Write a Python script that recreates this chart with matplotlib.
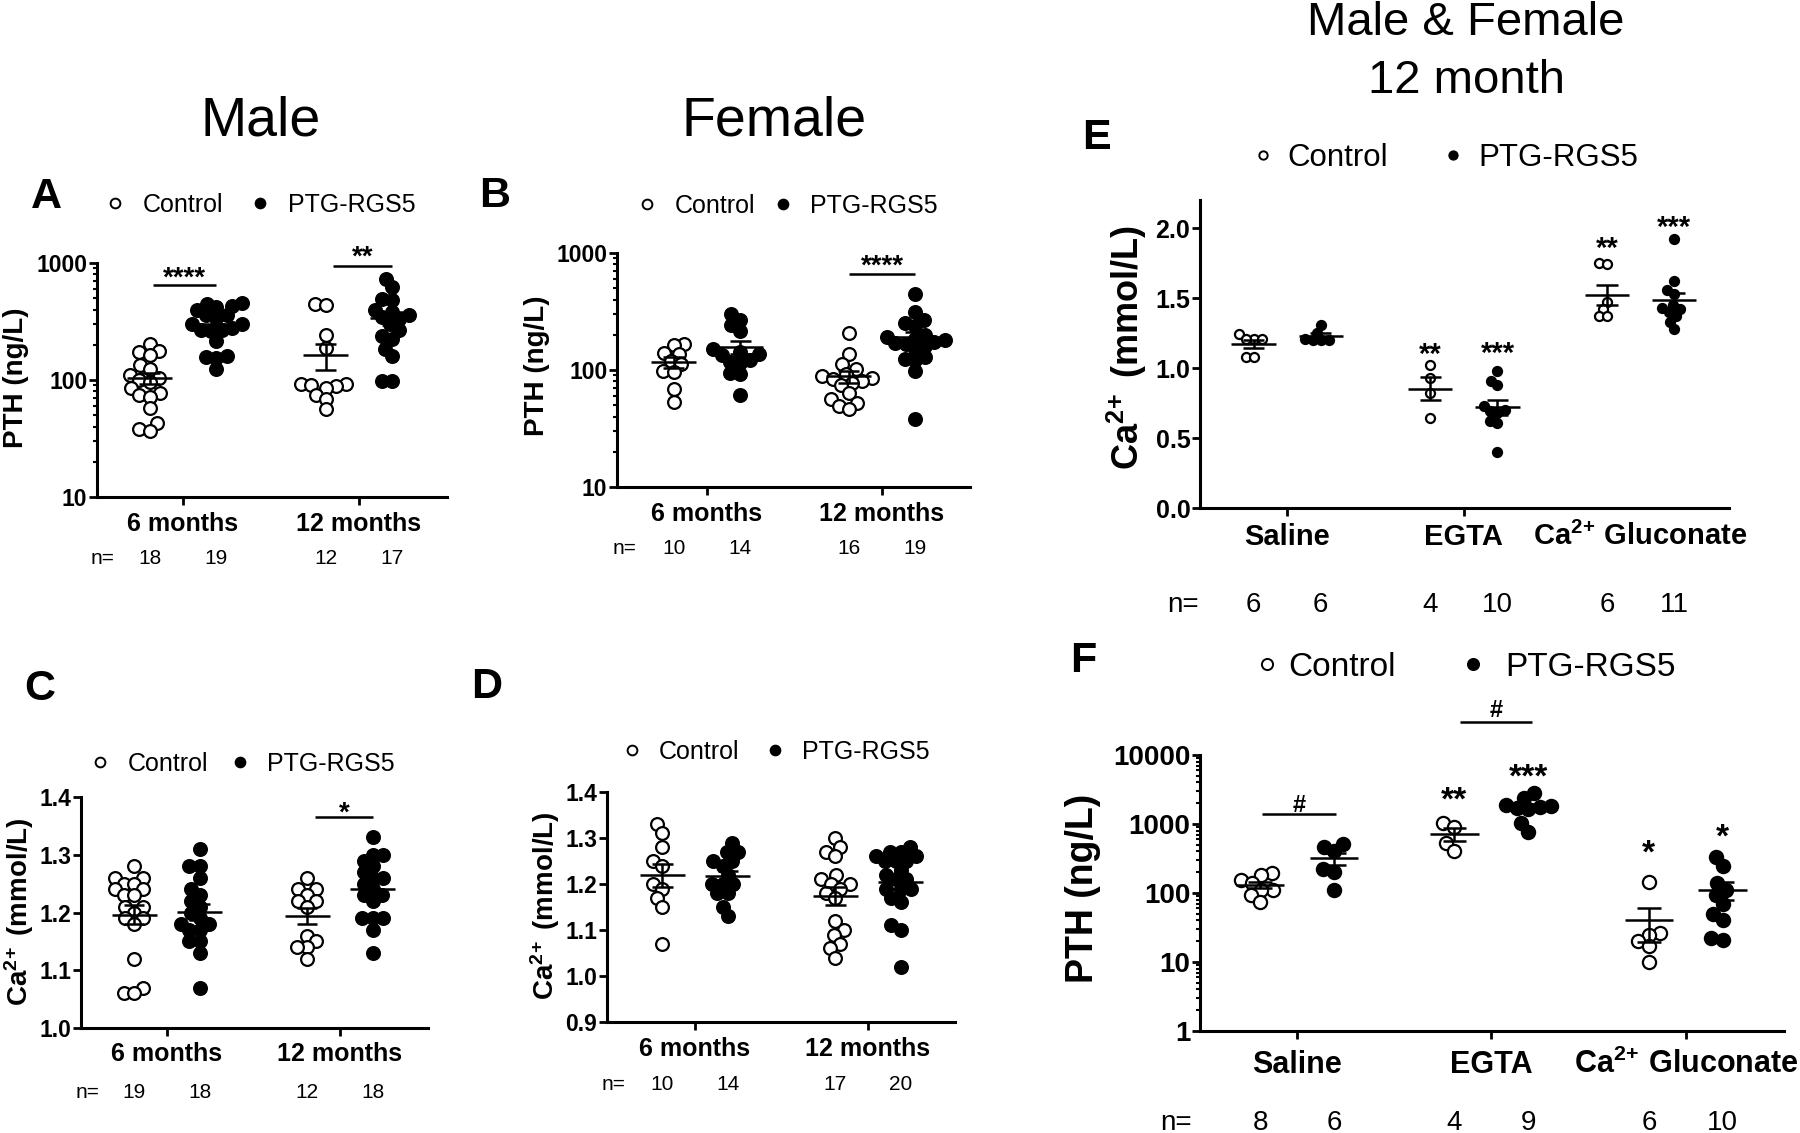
#=======================================================
#	PTH and ionised calcium in Control vs PTG-RGS5 mice
#	six panels (A-F), GraphPad style scatter with mean +/- SEM
#========================================================
import numpy as np
import matplotlib
matplotlib.use('Agg')
import matplotlib.pyplot as plt
from matplotlib.lines import Line2D
from matplotlib.ticker import LogLocator, NullFormatter

plt.rcParams['font.family'] = ['Liberation Sans', 'DejaVu Sans']
plt.rcParams['mathtext.default'] = 'regular'

CA = 'Ca$^{2\\!+}$'

#=====================
#===== Data
#=====================
ages = ['6 months', '12 months']
treatments = ['Saline', 'EGTA', 'Ca$^{2\\!+}\\,$Gluconate']

#--- A : male PTH (ng/L)
A_ctrl_6 = [203, 178, 172, 165, 135, 124, 110, 103, 100, 96, 85, 77, 74, 72, 58, 43, 38, 37]
A_rgs_6 = [455, 450, 430, 420, 400, 360, 360, 340, 300, 300, 280, 270, 265, 260, 217, 160, 158, 155, 125]
A_ctrl_12 = [450, 435, 241, 188, 93, 92, 90, 88, 85, 75, 69, 56]
A_rgs_12 = [730, 620, 495, 485, 400, 385, 360, 345, 330, 300, 266, 240, 225, 184, 159, 99, 98]

#--- B : female PTH (ng/L)
B_ctrl_6 = [168, 165, 140, 138, 120, 112, 98, 97, 69, 53]
B_rgs_6 = [299, 269, 241, 216, 150, 142, 138, 135, 122, 118, 115, 95, 92, 61]
B_ctrl_12 = [207, 138, 112, 102, 93, 88, 86, 83, 80, 78, 74, 64, 56, 52, 49, 46]
B_rgs_12 = [449, 313, 265, 250, 240, 200, 190, 185, 180, 175, 170, 166, 160, 150, 128, 125, 122, 98, 38]

#--- C : male Ca2+ (mmol/L)
C_ctrl_6 = [1.28, 1.26, 1.26, 1.25, 1.25, 1.24, 1.24, 1.23, 1.23, 1.21, 1.21, 1.20, 1.19, 1.19, 1.18, 1.12, 1.07, 1.06, 1.06]
C_rgs_6 = [1.31, 1.28, 1.28, 1.26, 1.24, 1.23, 1.22, 1.21, 1.20, 1.19, 1.18, 1.18, 1.17, 1.17, 1.15, 1.15, 1.13, 1.07]
C_ctrl_12 = [1.26, 1.24, 1.24, 1.23, 1.22, 1.22, 1.21, 1.16, 1.15, 1.14, 1.14, 1.12]
C_rgs_12 = [1.33, 1.30, 1.30, 1.29, 1.28, 1.27, 1.26, 1.26, 1.25, 1.24, 1.23, 1.23, 1.22, 1.19, 1.19, 1.19, 1.17, 1.13]

#--- D : female Ca2+ (mmol/L)
D_ctrl_6 = [1.33, 1.31, 1.28, 1.25, 1.24, 1.20, 1.19, 1.17, 1.15, 1.07]
D_rgs_6 = [1.29, 1.27, 1.27, 1.25, 1.25, 1.24, 1.22, 1.20, 1.20, 1.20, 1.18, 1.18, 1.15, 1.13]
D_ctrl_12 = [1.30, 1.28, 1.27, 1.26, 1.22, 1.21, 1.20, 1.20, 1.19, 1.18, 1.17, 1.12, 1.10, 1.09, 1.07, 1.06, 1.04]
D_rgs_12 = [1.28, 1.27, 1.27, 1.26, 1.26, 1.25, 1.25, 1.25, 1.23, 1.22, 1.21, 1.21, 1.19, 1.19, 1.19, 1.17, 1.16, 1.11, 1.10, 1.02]

#--- E : 12 month Ca2+ (mmol/L) after treatment
E_ctrl_saline = [1.24, 1.21, 1.21, 1.21, 1.08, 1.08]
E_rgs_saline = [1.31, 1.25, 1.21, 1.20, 1.20, 1.20]
E_ctrl_egta = [1.02, 0.93, 0.82, 0.64]
E_rgs_egta = [0.98, 0.91, 0.88, 0.73, 0.70, 0.69, 0.68, 0.62, 0.61, 0.40]
E_ctrl_gluc = [1.75, 1.74, 1.47, 1.42, 1.37, 1.37]
E_rgs_gluc = [1.92, 1.62, 1.56, 1.53, 1.45, 1.43, 1.42, 1.40, 1.37, 1.33, 1.28]

#--- F : 12 month PTH (ng/L) after treatment
F_ctrl_saline = [192, 180, 154, 140, 112, 110, 93, 74]
F_rgs_saline = [510, 470, 400, 220, 200, 112]
F_ctrl_egta = [1020, 915, 525, 406]
F_rgs_egta = [2800, 2355, 1900, 1800, 1750, 1700, 1650, 1020, 760]
F_ctrl_gluc = [145, 26, 25, 20, 17, 10]
F_rgs_gluc = [330, 245, 140, 110, 95, 70, 50, 40, 22, 21]

#======================
# 	Figure helpers
#======================
W = 1800
H = 1133
DPI = 100
OFF = 0.19  # half distance between control / RGS5 columns of one group

fig = plt.figure(figsize=(W / DPI, H / DPI), dpi=DPI)


def fx(x):
    return x / W


def fy(y):
    return 1 - y / H


def em(fs):
    return fs * DPI / 72.


def add_panel(x0, x1, ytop, ybot):
    return fig.add_axes([fx(x0), fy(ybot), (x1 - x0) / W, (ybot - ytop) / H])


def ftext(x, y, s, fs, ha='center', weight='normal'):
    # y = middle of the capitals (pixels from top)
    fig.text(fx(x), fy(y + 0.358 * em(fs)), s, fontsize=fs, ha=ha, va='baseline', fontweight=weight)


def atext(ax, x, y, s, fs, weight='normal'):
    # x in data units, y = middle of the capitals (pixels from top)
    bb = ax.get_position()
    ybot = (1 - bb.y0) * H
    hgt = bb.height * H
    yb = y + 0.358 * em(fs)
    ax.text(x, (ybot - yb) / hgt, s, transform=ax.get_xaxis_transform(), ha='center', va='baseline',
            fontsize=fs, fontweight=weight, clip_on=False)


def style(ax, xlim, ylim, yticks, ylabels, tfs, log=False):
    if log:
        ax.set_yscale('log')
        ax.yaxis.set_minor_locator(LogLocator(base=10, subs=np.arange(2, 10)))
        ax.yaxis.set_minor_formatter(NullFormatter())
    ax.set_xlim(*xlim)
    ax.set_ylim(*ylim)
    ax.set_yticks(yticks, ylabels, fontsize=tfs, fontweight='bold')
    ng = int(round(xlim[1]))
    ax.set_xticks(range(ng), [''] * ng)
    ax.spines[['top', 'right']].set_visible(False)
    ax.spines[['left', 'bottom']].set_linewidth(2.2)
    ax.tick_params(axis='both', which='major', length=6, width=2, pad=1, direction='out')
    ax.tick_params(axis='y', which='minor', length=3, width=1.5)
    ax.patch.set_alpha(0)


def swarm(ax, xc, vals, diam):
    # simple beeswarm : spread equal values sideways (pixels)
    pts = ax.transData.transform(np.column_stack([np.full(len(vals), xc), vals]))
    order = np.argsort(pts[:, 1])
    placed = []
    off = np.zeros(len(vals))
    for i in order:
        y = pts[i, 1]
        forb = []
        for (px, py) in placed:
            dy = abs(py - y)
            if dy < diam:
                dx = np.sqrt(diam ** 2 - dy ** 2)
                forb.append((px - dx, px + dx))
        cands = sorted([0.0] + [a for a, b in forb] + [b for a, b in forb], key=abs)
        for c in cands:
            if all(not (a + 1e-6 < c < b - 1e-6) for a, b in forb):
                break
        placed.append((c, y))
        off[i] = c
    back = ax.transData.inverted().transform(np.column_stack([pts[:, 0] + off, pts[:, 1]]))
    return back[:, 0]


def column(ax, xc, vals, filled, ms, diam, mw=0.26, cw=0.12, lw=1.8):
    vals = np.asarray(vals, float)
    xs = swarm(ax, xc, vals, diam)
    ax.plot(xs, vals, 'o', ms=ms, mfc='black' if filled else 'white', mec='black', mew=1.6,
            ls='none', zorder=3, clip_on=False)
    m = vals.mean()
    se = vals.std(ddof=1) / np.sqrt(len(vals))
    kw = dict(color='black', lw=lw, zorder=4, solid_capstyle='butt')
    ax.plot([xc - mw / 2, xc + mw / 2], [m, m], **kw)
    ax.plot([xc, xc], [m - se, m + se], **kw)
    ax.plot([xc - cw / 2, xc + cw / 2], [m + se, m + se], **kw)
    ax.plot([xc - cw / 2, xc + cw / 2], [m - se, m - se], **kw)


def mark(ax, x, y, s, fs, dy_px=0., cen=0.58):
    # glyph centre sits dy_px above the anchor point
    ax.annotate(s, xy=(x, y), xytext=(0, dy_px * 72. / DPI - cen * fs), textcoords='offset points',
                ha='center', va='baseline', fontsize=fs, fontweight='bold', annotation_clip=False)


def sigbar(ax, x0, x1, y, s, fs, dy_px, cen=0.58):
    ax.plot([x0, x1], [y, y], color='black', lw=1.8, clip_on=False, solid_capstyle='butt')
    mark(ax, (x0 + x1) / 2., y, s, fs, dy_px, cen)


def legend(y, xc, xt1, xd, xt2, fs, ms):
    fig.add_artist(Line2D([fx(xc)], [fy(y)], transform=fig.transFigure, marker='o', ms=ms,
                          mfc='white', mec='black', mew=1.4, ls='none'))
    fig.add_artist(Line2D([fx(xd)], [fy(y)], transform=fig.transFigure, marker='o', ms=ms,
                          mfc='black', mec='black', mew=1.4, ls='none'))
    ftext(xt1, y, 'Control', fs, ha='left')
    ftext(xt2, y, 'PTG-RGS5', fs, ha='left')


def ylab(x, y, s, fs):
    fig.text(fx(x), fy(y), s, rotation=90, ha='center', va='center', fontsize=fs, fontweight='bold')


def nrow(ax, y, xn, groups, fs):
    atext(ax, xn, y, 'n=', fs)
    for i, (c, r) in enumerate(groups):
        atext(ax, i - OFF, y, str(len(c)), fs)
        atext(ax, i + OFF, y, str(len(r)), fs)


#======================
# 	Titles
#======================
ftext(261, 116, 'Male', 40)
ftext(774, 116, 'Female', 40)
fig.text(fx(1466), fy(35), 'Male & Female', fontsize=34, ha='center', va='baseline')
fig.text(fx(1466), fy(93), '12 month', fontsize=34, ha='center', va='baseline')

for lett, x, yb in [('A', 31, 208), ('B', 479, 207), ('C', 24, 700), ('D', 471, 698),
                    ('E', 1082, 149), ('F', 1070, 672)]:
    fig.text(fx(x), fy(yb), lett, fontsize=31, fontweight='bold', ha='left', va='baseline')

pth_ticks = [10, 100, 1000]
pth_labels = ['10', '100', '1000']
MS = 9.2    # marker size (points) of the panels A-D and F
DIAM = 10.5  # packing distance (pixels) of the swarm

#----- A
axA = add_panel(97, 447, 263, 497)
style(axA, (-0.489, 1.5), (10, 1000), pth_ticks, pth_labels, 16.5, log=True)
grpA = [(A_ctrl_6, A_rgs_6), (A_ctrl_12, A_rgs_12)]
for i, (c, r) in enumerate(grpA):
    column(axA, i - OFF, c, False, MS, DIAM)
    column(axA, i + OFF, r, True, MS, DIAM)
sigbar(axA, -0.17, 0.19, 649, '****', 20, 15)
sigbar(axA, 0.85, 1.19, 936, '**', 20, 18)
for i, g in enumerate(ages):
    atext(axA, i, 522, g, 18, 'bold')
nrow(axA, 557, -0.46, grpA, 15)
legend(203, 115, 143, 260, 288, 18, 7)
ylab(16, 378, 'PTH (ng/L)', 20)

#----- B
axB = add_panel(617, 970, 253, 487)
style(axB, (-0.514, 1.503), (10, 1000), pth_ticks, pth_labels, 16.5, log=True)
grpB = [(B_ctrl_6, B_rgs_6), (B_ctrl_12, B_rgs_12)]
for i, (c, r) in enumerate(grpB):
    column(axB, i - OFF, c, False, MS, DIAM)
    column(axB, i + OFF, r, True, MS, DIAM)
sigbar(axB, 0.81, 1.19, 666, '****', 20, 16)
for i, g in enumerate(ages):
    atext(axB, i, 512, g, 18, 'bold')
nrow(axB, 547, -0.469, grpB, 15)
legend(204, 647, 675, 783, 810, 18, 7)
ylab(537, 366, 'PTH (ng/L)', 20)

#----- C
axC = add_panel(81, 428, 797, 1028)
cticks = [1.0, 1.1, 1.2, 1.3, 1.4]
style(axC, (-0.497, 1.509), (1.0, 1.4), cticks, ['%.1f' % t for t in cticks], 16.5)
grpC = [(C_ctrl_6, C_rgs_6), (C_ctrl_12, C_rgs_12)]
for i, (c, r) in enumerate(grpC):
    column(axC, i - OFF, c, False, MS, DIAM)
    column(axC, i + OFF, r, True, MS, DIAM)
sigbar(axC, 0.855, 1.19, 1.365, '*', 20, 13)
for i, g in enumerate(ages):
    atext(axC, i, 1052, g, 18, 'bold')
nrow(axC, 1091, -0.46, grpC, 15)
legend(762, 100, 128, 240, 267, 18, 7)
ylab(19, 912, CA + ' (mmol/L)', 20)

#----- D
axD = add_panel(607, 955, 792, 1022)
dticks = [0.9, 1.0, 1.1, 1.2, 1.3, 1.4]
style(axD, (-0.509, 1.503), (0.9, 1.4), dticks, ['%.1f' % t for t in dticks], 16.5)
grpD = [(D_ctrl_6, D_rgs_6), (D_ctrl_12, D_rgs_12)]
for i, (c, r) in enumerate(grpD):
    column(axD, i - OFF, c, False, MS, DIAM)
    column(axD, i + OFF, r, True, MS, DIAM)
for i, g in enumerate(ages):
    atext(axD, i, 1047, g, 18, 'bold')
nrow(axD, 1083, -0.474, grpD, 15)
legend(750, 632, 659, 775, 802, 18, 7)
ylab(545, 906, CA + ' (mmol/L)', 20)

#----- E
axE = add_panel(1200, 1729, 200, 508)
eticks = [0.0, 0.5, 1.0, 1.5, 2.0]
style(axE, (-0.493, 2.5), (0, 2.2), eticks, ['%.1f' % t for t in eticks], 18)
grpE = [(E_ctrl_saline, E_rgs_saline), (E_ctrl_egta, E_rgs_egta), (E_ctrl_gluc, E_rgs_gluc)]
for i, (c, r) in enumerate(grpE):
    column(axE, i - OFF, c, False, 6.5, 8.0, mw=0.25, cw=0.12)
    column(axE, i + OFF, r, True, 6.5, 8.0, mw=0.25, cw=0.12)
mark(axE, 1 - OFF, 1.156, '**', 21)
mark(axE, 1 + OFF, 1.161, '***', 21)
mark(axE, 2 - OFF, 1.914, '**', 21)
mark(axE, 2 + OFF, 2.065, '***', 21)
for i, g in enumerate(treatments):
    atext(axE, i, 535, g, 21, 'bold')
nrow(axE, 602, -0.59, grpE, 20)
legend(155, 1263, 1287, 1453, 1478, 22.5, 6)
ylab(1127, 348, CA + ' (mmol/L)', 26)

#----- F
axF = add_panel(1200, 1784, 755, 1031)
style(axF, (-0.499, 2.505), (1, 10000), [1, 10, 100, 1000, 10000],
      ['1', '10', '100', '1000', '10000'], 20, log=True)
grpF = [(F_ctrl_saline, F_rgs_saline), (F_ctrl_egta, F_rgs_egta), (F_ctrl_gluc, F_rgs_gluc)]
for i, (c, r) in enumerate(grpF):
    column(axF, i - OFF, c, False, 9.5, 11.5, mw=0.25, cw=0.12)
    column(axF, i + OFF, r, True, 9.5, 11.5, mw=0.25, cw=0.12)
sigbar(axF, -0.18, 0.2, 1393, '#', 17, 11, cen=0.36)
sigbar(axF, 0.84, 1.21, 30060, '#', 17, 14, cen=0.36)
mark(axF, 1 - OFF, 3110, '**', 24)
mark(axF, 1 + OFF, 6700, '***', 24)
mark(axF, 2 - OFF, 531, '*', 24)
mark(axF, 2 + OFF, 905, '*', 24)
for i, g in enumerate(treatments):
    atext(axF, i, 1062, g, 22, 'bold')
nrow(axF, 1120, -0.62, grpF, 20)
legend(664, 1267, 1288, 1473, 1505, 24, 8)
ylab(1083, 888, 'PTH (ng/L)', 27)

plt.savefig('out.png', dpi=DPI)
print('Saving: out.png')
